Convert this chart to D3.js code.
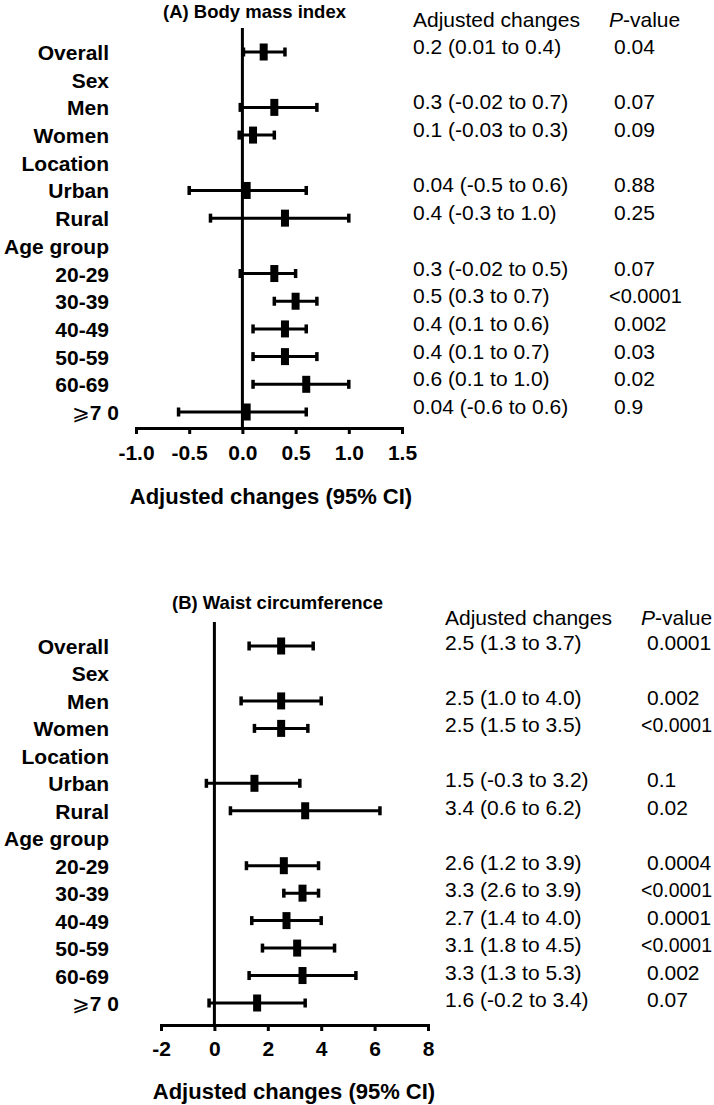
<!DOCTYPE html>
<html><head><meta charset="utf-8">
<script src="https://cdn.jsdelivr.net/npm/d3@7"></script>
<style>
html,body{margin:0;padding:0;background:#fff;}
svg{display:block;font-family:"Liberation Sans",Arial,sans-serif;}
</style></head>
<body>
<svg id="chart" width="714" height="1105"></svg>
<script>
// ---- data ----
const rowLabels = ["Overall","Sex","Men","Women","Location","Urban","Rural","Age group","20-29","30-39","40-49","50-59","60-69","≥70"];
const groups = ["Overall","Men","Women","Urban","Rural","20-29","30-39","40-49","50-59","60-69","≥70"];

const bmiEst  = [0.2, 0.3, 0.1, 0.04, 0.4, 0.3, 0.5, 0.4, 0.4, 0.6, 0.04];
const bmiLow  = [0.01, -0.02, -0.03, -0.5, -0.3, -0.02, 0.3, 0.1, 0.1, 0.1, -0.6];
const bmiHigh = [0.4, 0.7, 0.3, 0.6, 1.0, 0.5, 0.7, 0.6, 0.7, 1.0, 0.6];
const bmiText = ["0.2 (0.01 to 0.4)","0.3 (-0.02 to 0.7)","0.1 (-0.03 to 0.3)","0.04 (-0.5 to 0.6)","0.4 (-0.3 to 1.0)","0.3 (-0.02 to 0.5)","0.5 (0.3 to 0.7)","0.4 (0.1 to 0.6)","0.4 (0.1 to 0.7)","0.6 (0.1 to 1.0)","0.04 (-0.6 to 0.6)"];
const bmiP    = ["0.04","0.07","0.09","0.88","0.25","0.07","<0.0001","0.002","0.03","0.02","0.9"];
const bmiTicks = [-1.0,-0.5,0.0,0.5,1.0,1.5];

const waistEst  = [2.5, 2.5, 2.5, 1.5, 3.4, 2.6, 3.3, 2.7, 3.1, 3.3, 1.6];
const waistLow  = [1.3, 1.0, 1.5, -0.3, 0.6, 1.2, 2.6, 1.4, 1.8, 1.3, -0.2];
const waistHigh = [3.7, 4.0, 3.5, 3.2, 6.2, 3.9, 3.9, 4.0, 4.5, 5.3, 3.4];
const waistText = ["2.5 (1.3 to 3.7)","2.5 (1.0 to 4.0)","2.5 (1.5 to 3.5)","1.5 (-0.3 to 3.2)","3.4 (0.6 to 6.2)","2.6 (1.2 to 3.9)","3.3 (2.6 to 3.9)","2.7 (1.4 to 4.0)","3.1 (1.8 to 4.5)","3.3 (1.3 to 5.3)","1.6 (-0.2 to 3.4)"];
const waistP    = ["0.0001","0.002","<0.0001","0.1","0.02","0.0004","<0.0001","0.0001","<0.0001","0.002","0.07"];
const waistTicks = [-2,0,2,4,6,8];

const svg = d3.select("#chart");

function panel(cfg){
  const g = svg.append("g");
  const x = d3.scaleLinear().domain(cfg.domain).range(cfg.xRange);
  const y = d3.scalePoint().domain(rowLabels).range(cfg.yRange);

  // title
  g.append("text").attr("x", cfg.titleX).attr("y", cfg.titleY)
    .attr("font-size", 18.5).attr("font-weight", "bold").text(cfg.title);

  // column headers
  g.append("text").attr("x", cfg.ciX).attr("y", cfg.headY).attr("font-size", 21).text("Adjusted changes");
  const ph = g.append("text").attr("x", cfg.pHeadX).attr("y", cfg.headY).attr("font-size", 21);
  ph.append("tspan").attr("font-style","italic").text("P");
  ph.append("tspan").text("-value");

  // row labels
  rowLabels.forEach(lab => {
    if (lab === "≥70") {
      const t = g.append("text").attr("x", 119).attr("y", y(lab) + 8)
        .attr("text-anchor","end").attr("font-size", 21).attr("font-weight","bold");
      t.append("tspan").attr("font-family","DejaVu Sans").attr("font-weight","normal").text("⩾");
      t.append("tspan").text("7 0");
    } else {
      g.append("text").attr("x", 109).attr("y", y(lab) + 8)
        .attr("text-anchor","end").attr("font-size", 21).attr("font-weight","bold").text(lab);
    }
  });

  // axis
  const axis = d3.axisBottom(x).tickValues(cfg.ticks).tickSize(6).tickSizeOuter(0)
    .tickPadding(cfg.tickPad).tickFormat(cfg.fmt);
  const ag = g.append("g").attr("transform", `translate(0,${cfg.axisY})`).call(axis);
  ag.select(".domain").attr("stroke","#000").attr("stroke-width",3).attr("stroke-linecap","square");
  ag.selectAll(".tick line").attr("stroke","#000").attr("stroke-width",3);
  ag.selectAll(".tick text").attr("font-size",21).attr("font-weight","bold")
    .attr("font-family",'"Liberation Sans",Arial,sans-serif').attr("fill","#000");

  // zero line
  g.append("line").attr("x1", x(0)).attr("x2", x(0))
    .attr("y1", cfg.zeroTop).attr("y2", cfg.axisY)
    .attr("stroke","#000").attr("stroke-width",3);

  // axis title
  g.append("text").attr("x", cfg.axTitleX).attr("y", cfg.axTitleY).attr("text-anchor","middle")
    .attr("font-size", 22).attr("font-weight","bold").text("Adjusted changes (95% CI)");

  // CI bars + markers + text
  groups.forEach((grp, i) => {
    const yy = y(grp);
    g.append("line").attr("x1", x(cfg.low[i])).attr("x2", x(cfg.high[i]))
      .attr("y1", yy).attr("y2", yy).attr("stroke","#000").attr("stroke-width",3);
    [cfg.low[i], cfg.high[i]].forEach(v => {
      g.append("rect").attr("x", x(v) - 1.75).attr("y", yy - 4.5)
        .attr("width", 3.5).attr("height", 9).attr("fill","#000");
    });
    g.append("rect").attr("x", x(cfg.est[i]) - 4).attr("y", yy - 8.5)
      .attr("width", 8).attr("height", 17).attr("fill","#000");
    g.append("text").attr("x", cfg.ciX).attr("y", yy + cfg.valDy).attr("font-size", 21).text(cfg.text[i]);
    const pv = cfg.p[i];
    const pt = g.append("text").attr("y", yy + cfg.valDy).text(pv);
    if (pv.startsWith("<")) {
      pt.attr("x", cfg.pLtX).attr("font-size", cfg.pLtSize);
    } else {
      pt.attr("x", cfg.pX).attr("font-size", 21);
    }
  });
}

panel({
  title: "(A) Body mass index", titleX: 163, titleY: 18,
  domain: [-1, 1.5], xRange: [136, 402], yRange: [52, 412],
  ticks: bmiTicks, fmt: d => d.toFixed(1), tickPad: 11,
  axisY: 428, zeroTop: 28, axTitleX: 271, axTitleY: 504,
  headY: 27, ciX: 413, pHeadX: 609, pX: 614, pLtX: 609, pLtSize: 20, valDy: 2,
  est: bmiEst, low: bmiLow, high: bmiHigh, text: bmiText, p: bmiP
});

panel({
  title: "(B) Waist circumference", titleX: 172, titleY: 609,
  domain: [-2, 8], xRange: [161, 428], yRange: [646, 1003],
  ticks: waistTicks, fmt: d => String(d), tickPad: 10,
  axisY: 1025, zeroTop: 622, axTitleX: 294, axTitleY: 1099,
  headY: 625, ciX: 445, pHeadX: 641, pX: 647, pLtX: 641, pLtSize: 19.5, valDy: 4,
  est: waistEst, low: waistLow, high: waistHigh, text: waistText, p: waistP
});
</script>
</body></html>
